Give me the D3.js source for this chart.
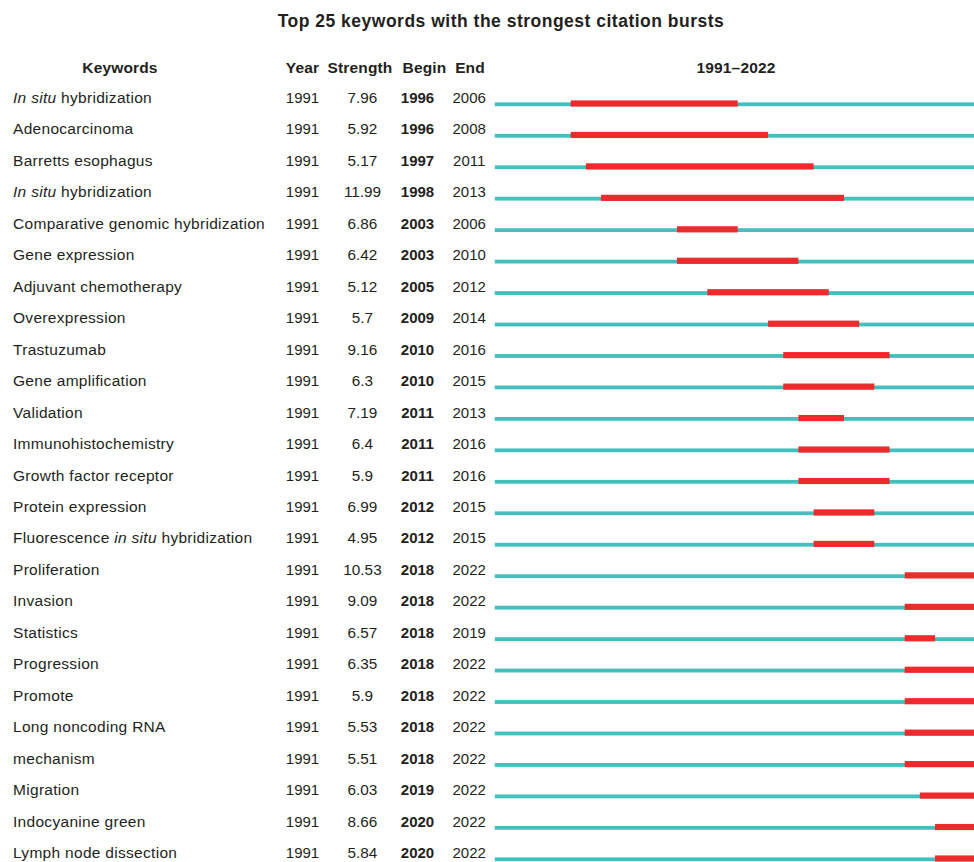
<!DOCTYPE html>
<html>
<head>
<meta charset="utf-8">
<script src="https://cdn.jsdelivr.net/npm/d3@7"></script>
<style>
  html, body { margin: 0; padding: 0; background: #fff; }
  svg { display: block; font-family: "Liberation Sans", Arial, Helvetica, sans-serif; }
</style>
</head>
<body>
<svg id="chart" width="974" height="862"></svg>
<script>
// Keyword labels; segments wrapped in *...* are set in italics
const keywords = [
  "*In situ* hybridization",
  "Adenocarcinoma",
  "Barretts esophagus",
  "*In situ* hybridization",
  "Comparative genomic hybridization",
  "Gene expression",
  "Adjuvant chemotherapy",
  "Overexpression",
  "Trastuzumab",
  "Gene amplification",
  "Validation",
  "Immunohistochemistry",
  "Growth factor receptor",
  "Protein expression",
  "Fluorescence *in situ* hybridization",
  "Proliferation",
  "Invasion",
  "Statistics",
  "Progression",
  "Promote",
  "Long noncoding RNA",
  "mechanism",
  "Migration",
  "Indocyanine green",
  "Lymph node dissection"
];
const firstYear = [1991, 1991, 1991, 1991, 1991, 1991, 1991, 1991, 1991, 1991, 1991, 1991, 1991,
                   1991, 1991, 1991, 1991, 1991, 1991, 1991, 1991, 1991, 1991, 1991, 1991];
const strength = ["7.96", "5.92", "5.17", "11.99", "6.86", "6.42", "5.12", "5.7", "9.16", "6.3",
                  "7.19", "6.4", "5.9", "6.99", "4.95", "10.53", "9.09", "6.57", "6.35", "5.9",
                  "5.53", "5.51", "6.03", "8.66", "5.84"];
const beginYear = [1996, 1996, 1997, 1998, 2003, 2003, 2005, 2009, 2010, 2010, 2011, 2011, 2011,
                   2012, 2012, 2018, 2018, 2018, 2018, 2018, 2018, 2018, 2019, 2020, 2020];
const endYear = [2006, 2008, 2011, 2013, 2006, 2010, 2012, 2014, 2016, 2015, 2013, 2016, 2016,
                 2015, 2015, 2022, 2022, 2019, 2022, 2022, 2022, 2022, 2022, 2022, 2022];
const spanStart = 1991, spanEnd = 2022;
const titleText = "Top 25 keywords with the strongest citation bursts";
const headers = ["Keywords", "Year", "Strength", "Begin", "End", "1991\u20132022"];

const rows = keywords.map((k, i) => ({
  keyword: k, year: firstYear[i], strength: strength[i], begin: beginYear[i], end: endYear[i]
}));

const svg = d3.select("#chart");
const textColor = "#231f20";
const teal = "#43bfbd";
const red = "#ee2a2c";

// Timeline scale: each year occupies one full unit, so a burst ends at end + 1
const x = d3.scaleLinear().domain([spanStart, spanEnd + 1]).range([494.8, 980.6]);
// Row scale: baseline of each row
const y = d3.scaleLinear().domain([0, rows.length - 1]).range([103, 858]);

// Title
svg.append("text")
  .attr("x", 501).attr("y", 27)
  .attr("text-anchor", "middle")
  .attr("font-size", 17.5).attr("font-weight", "bold")
  .attr("letter-spacing", 0.5)
  .attr("fill", textColor)
  .text(titleText);

// Column headers
const headerPos = [120, 302.5, 360, 424.5, 470, 736];
svg.append("g").selectAll("text")
  .data(headers)
  .join("text")
  .attr("x", (d, i) => headerPos[i])
  .attr("y", 73)
  .attr("text-anchor", "middle")
  .attr("font-size", 15.5).attr("font-weight", "bold")
  .attr("letter-spacing", 0.15)
  .attr("fill", textColor)
  .text(d => d);

const rowG = svg.append("g").selectAll("g")
  .data(rows)
  .join("g")
  .attr("transform", (d, i) => `translate(0,${y(i)})`);

// Keyword with italic segments
rowG.append("text")
  .attr("x", 13).attr("y", 0)
  .attr("font-size", 15.5)
  .attr("letter-spacing", 0.3)
  .attr("fill", textColor)
  .each(function(d) {
    const t = d3.select(this);
    d.keyword.split("*").forEach((part, j) => {
      if (!part) return;
      t.append("tspan")
        .attr("font-style", j % 2 === 1 ? "italic" : "normal")
        .text(part);
    });
  });

rowG.append("text")
  .attr("x", 302.5).attr("text-anchor", "middle")
  .attr("font-size", 15).attr("fill", textColor)
  .text(d => d.year);

rowG.append("text")
  .attr("x", 362.5).attr("text-anchor", "middle")
  .attr("font-size", 15.3).attr("fill", textColor)
  .text(d => d.strength);

rowG.append("text")
  .attr("x", 417.5).attr("text-anchor", "middle")
  .attr("font-size", 15).attr("font-weight", "bold").attr("fill", textColor)
  .text(d => d.begin);

rowG.append("text")
  .attr("x", 469.2).attr("text-anchor", "middle")
  .attr("font-size", 15).attr("fill", textColor)
  .text(d => d.end);

// Full time span line
rowG.append("rect")
  .attr("x", x(spanStart))
  .attr("width", x(spanEnd + 1) - x(spanStart))
  .attr("y", -0.6).attr("height", 3.8)
  .attr("fill", teal);

// Burst interval
rowG.append("rect")
  .attr("x", d => x(d.begin))
  .attr("width", d => x(d.end + 1) - x(d.begin))
  .attr("y", -2.6).attr("height", 6.2)
  .attr("fill", red);
</script>
</body>
</html>
